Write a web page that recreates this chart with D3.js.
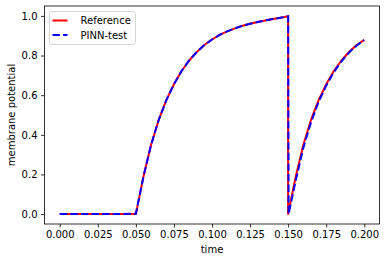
<!DOCTYPE html>
<html>
<head>
<meta charset="utf-8">
<script src="https://cdn.jsdelivr.net/npm/d3@7"></script>
<style>
  html, body { margin: 0; padding: 0; background: #fff; }
  svg { display: block; font-family: "DejaVu Sans", sans-serif; }
</style>
</head>
<body>
<svg id="chart"></svg>
<script>
// Data
var refTime = [0, 0.01, 0.02, 0.03, 0.04, 0.05, 0.055, 0.06, 0.065, 0.07, 0.075, 0.08, 0.085, 0.09, 0.095,
  0.1, 0.105, 0.11, 0.115, 0.12, 0.125, 0.13, 0.135, 0.14, 0.145, 0.15, 0.15, 0.155, 0.16, 0.165,
  0.17, 0.175, 0.18, 0.185, 0.19, 0.195, 0.2]
var refValue = [0, 0, 0, 0, 0, 0, 0.19, 0.35, 0.475, 0.575, 0.655, 0.722, 0.775, 0.818, 0.853,
  0.881, 0.904, 0.922, 0.937, 0.95, 0.96, 0.969, 0.977, 0.984, 0.991, 0.998, 0.0, 0.19, 0.35, 0.475,
  0.575, 0.655, 0.722, 0.775, 0.818, 0.853, 0.879]

var pinnTime = [0, 0.01, 0.02, 0.03, 0.04, 0.05, 0.055, 0.06, 0.065, 0.07, 0.075, 0.08, 0.085, 0.09, 0.095,
  0.1, 0.105, 0.11, 0.115, 0.12, 0.125, 0.13, 0.135, 0.14, 0.145, 0.15, 0.1503, 0.155, 0.16, 0.165,
  0.17, 0.175, 0.18, 0.185, 0.19, 0.195, 0.2]
var pinnValue = [0, 0, 0, 0, 0, 0.002, 0.19, 0.35, 0.475, 0.575, 0.655, 0.722, 0.775, 0.818, 0.853,
  0.881, 0.904, 0.922, 0.937, 0.95, 0.96, 0.969, 0.977, 0.984, 0.991, 0.998, 0.0, 0.17, 0.335, 0.462,
  0.566, 0.648, 0.716, 0.771, 0.815, 0.851, 0.878]

var xTicks = [0, 0.025, 0.05, 0.075, 0.1, 0.125, 0.15, 0.175, 0.2]
var yTicks = [0, 0.2, 0.4, 0.6, 0.8, 1.0]
var seriesNames = ['Reference', 'PINN-test']

var WIDTH = 386
var HEIGHT = 262
var margin = { left: 44.5, right: 6.5, top: 6, bottom: 38 }

var svg = d3.select('#chart')
  .attr('width', WIDTH)
  .attr('height', HEIGHT)

var x = d3.scaleLinear().domain([-0.01, 0.21]).range([margin.left, WIDTH - margin.right])
var y = d3.scaleLinear().domain([-0.05, 1.05]).range([HEIGHT - margin.bottom, margin.top])

// Axes
var xAxis = svg.append('g')
  .attr('transform', 'translate(0,' + (HEIGHT - margin.bottom) + ')')
  .call(d3.axisBottom(x).tickValues(xTicks).tickFormat(d3.format('.3f')).tickSize(3.5).tickPadding(3.5))
var yAxis = svg.append('g')
  .attr('transform', 'translate(' + margin.left + ',0)')
  .call(d3.axisLeft(y).tickValues(yTicks).tickFormat(d3.format('.1f')).tickSize(3.5).tickPadding(3.5))

;[xAxis, yAxis].forEach(function (g) {
  g.select('.domain').remove()
  g.selectAll('line').attr('stroke', '#000').attr('stroke-width', 0.8)
  g.selectAll('text').attr('font-size', 10).attr('fill', '#000')
    .attr('font-family', '"DejaVu Sans", sans-serif')
})

// Frame
svg.append('rect')
  .attr('x', margin.left)
  .attr('y', margin.top)
  .attr('width', WIDTH - margin.left - margin.right)
  .attr('height', HEIGHT - margin.top - margin.bottom)
  .attr('fill', 'none')
  .attr('stroke', '#000')
  .attr('stroke-width', 0.8)

// Axis labels
svg.append('text')
  .attr('x', (margin.left + WIDTH - margin.right) / 2)
  .attr('y', 253)
  .attr('text-anchor', 'middle')
  .attr('font-size', 10)
  .text('time')
svg.append('text')
  .attr('transform', 'translate(15,' + ((margin.top + HEIGHT - margin.bottom) / 2) + ') rotate(-90)')
  .attr('text-anchor', 'middle')
  .attr('font-size', 10)
  .text('membrane potential')

// Lines
var line = d3.line()
  .x(function (d) { return x(d[0]) })
  .y(function (d) { return y(d[1]) })

svg.append('path')
  .datum(d3.zip(refTime, refValue))
  .attr('d', line)
  .attr('fill', 'none')
  .attr('stroke', '#ff0000')
  .attr('stroke-width', 2)
  .attr('stroke-linejoin', 'round')

svg.append('path')
  .datum(d3.zip(pinnTime, pinnValue))
  .attr('d', line)
  .attr('fill', 'none')
  .attr('stroke', '#0000ff')
  .attr('stroke-width', 2)
  .attr('stroke-dasharray', '7.4,3.2')

// Legend
var legend = svg.append('g').attr('transform', 'translate(49.5,11.5)')
legend.append('rect')
  .attr('width', 86)
  .attr('height', 33)
  .attr('rx', 2)
  .attr('fill', '#fff')
  .attr('fill-opacity', 0.8)
  .attr('stroke', '#ccc')
  .attr('stroke-width', 0.8)

var styles = [{ color: '#ff0000', dash: null }, { color: '#0000ff', dash: '7.4,3.2' }]
seriesNames.forEach(function (name, i) {
  var yy = 9 + i * 14.5
  legend.append('line')
    .attr('x1', 3).attr('x2', 18)
    .attr('y1', yy).attr('y2', yy)
    .attr('stroke', styles[i].color)
    .attr('stroke-width', 2)
    .attr('stroke-dasharray', styles[i].dash)
  legend.append('text')
    .attr('x', 31)
    .attr('y', yy + 3.5)
    .attr('font-size', 10)
    .text(name)
})
</script>
</body>
</html>
